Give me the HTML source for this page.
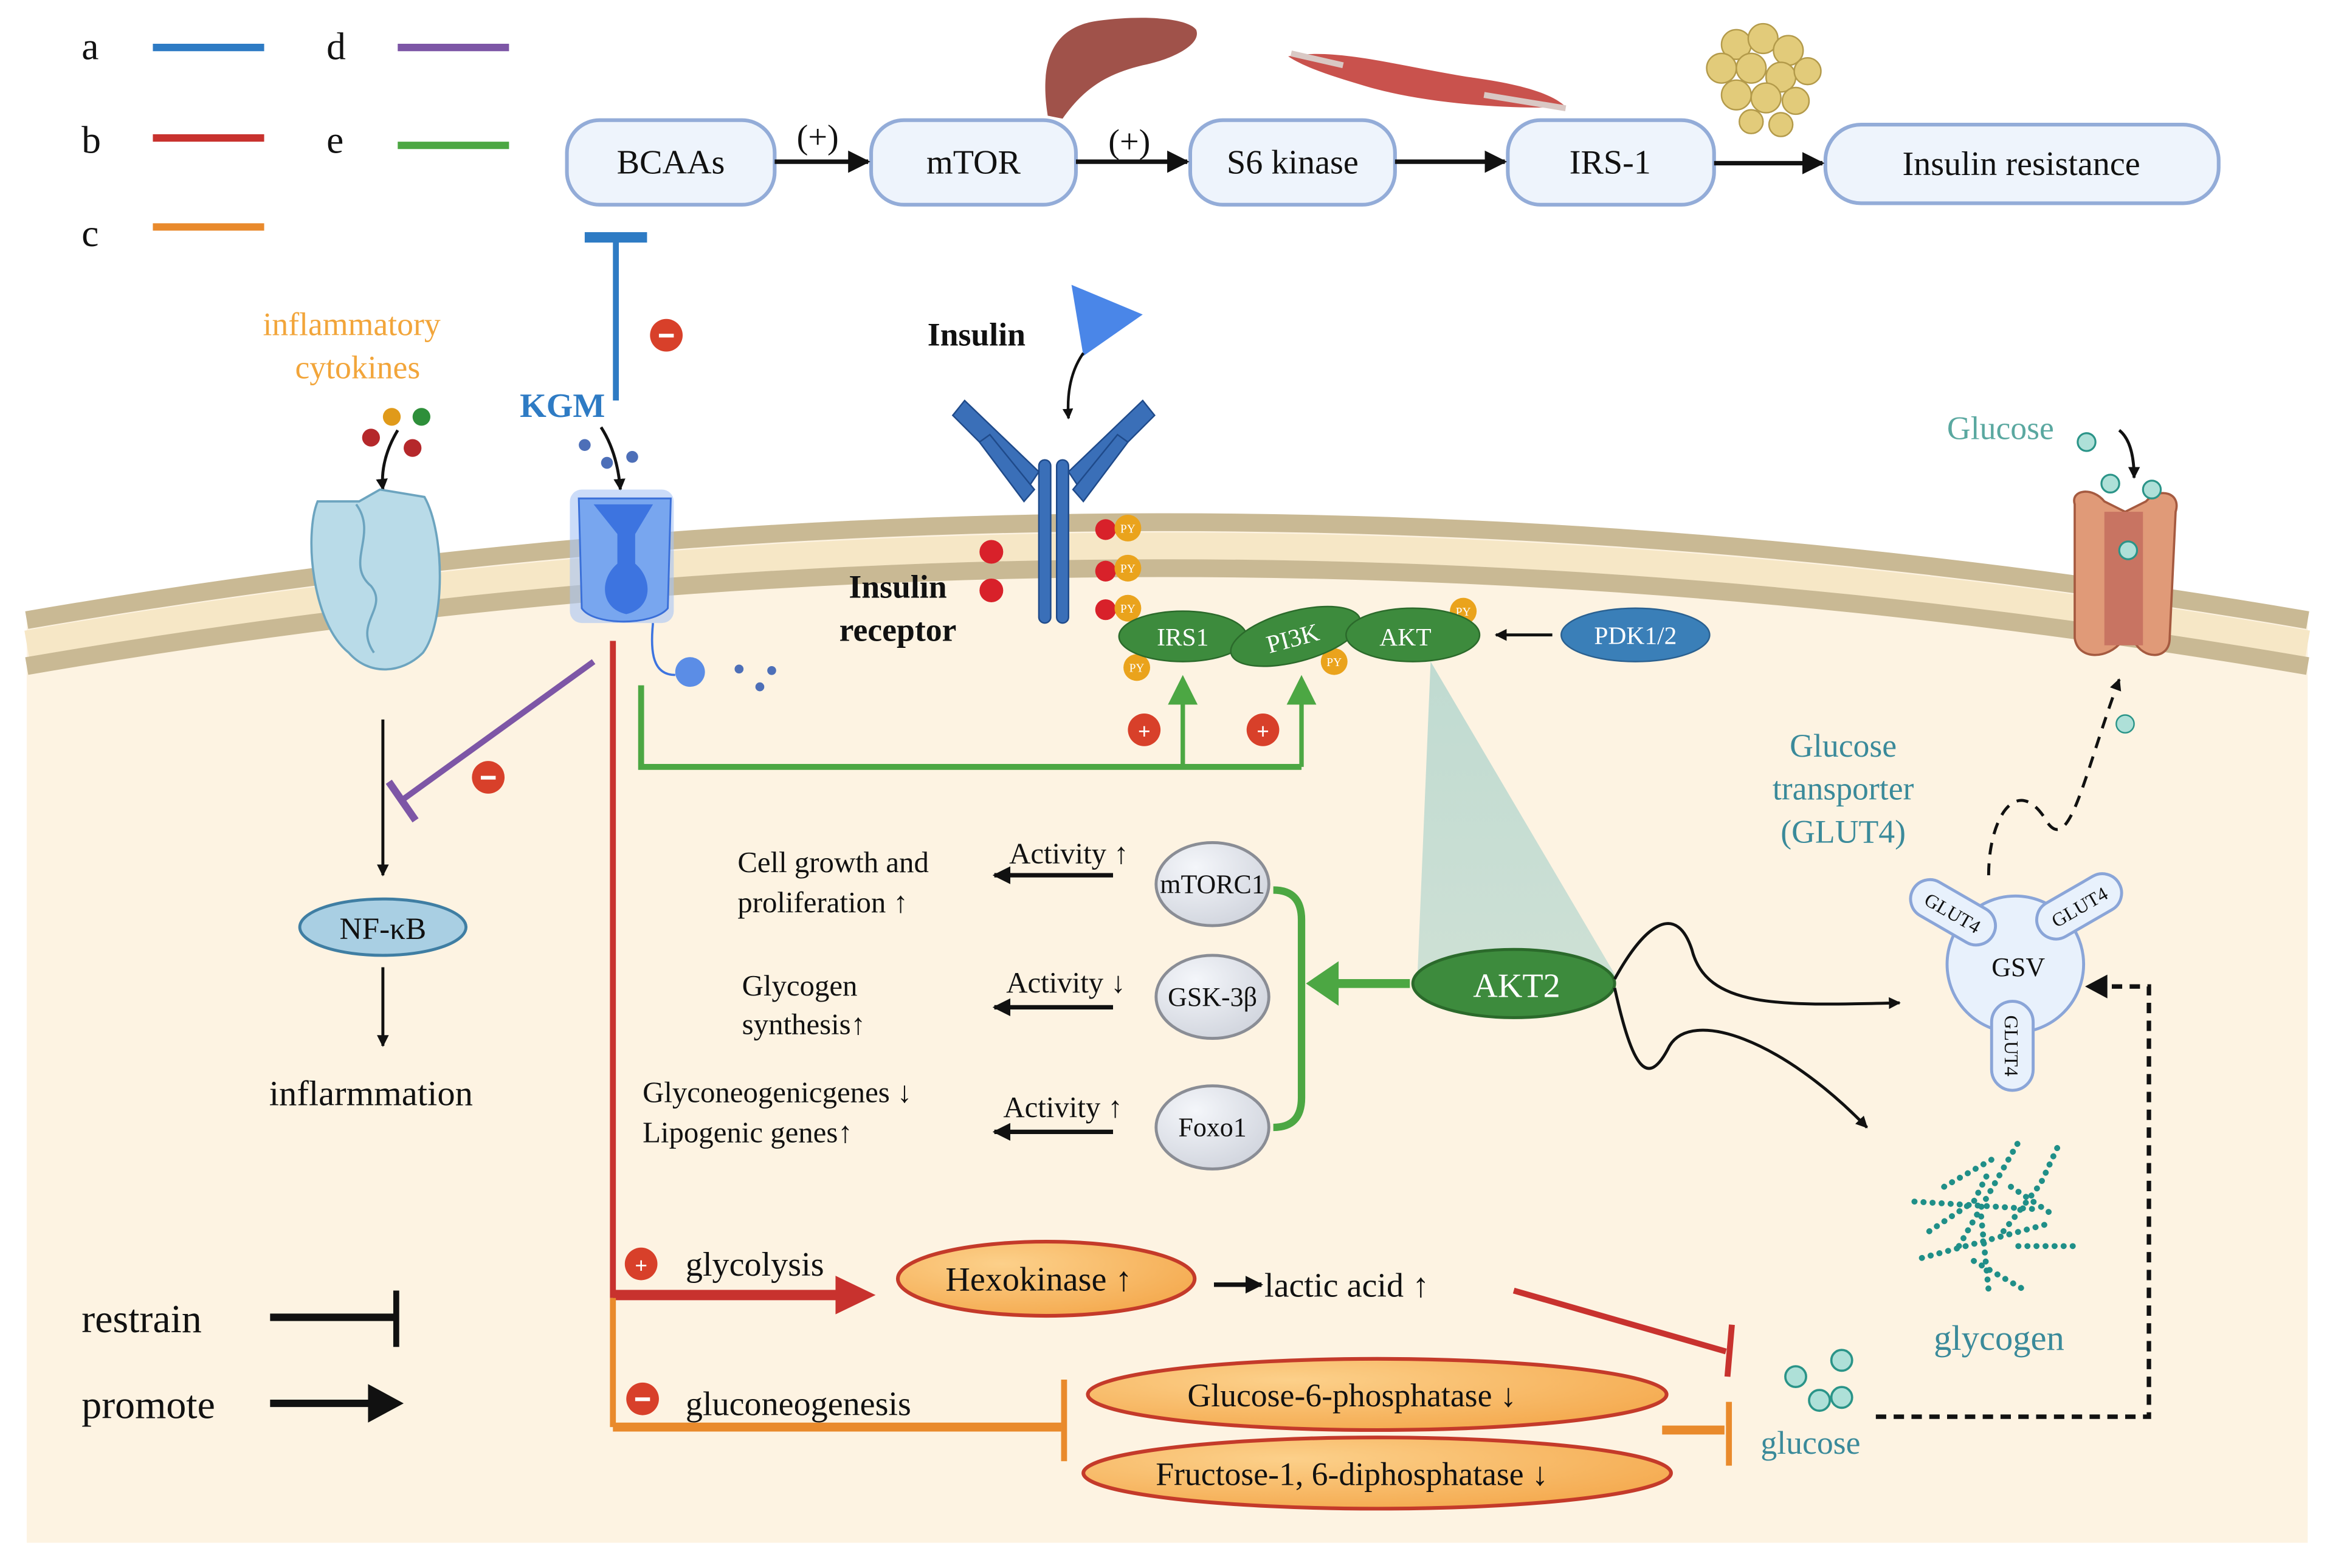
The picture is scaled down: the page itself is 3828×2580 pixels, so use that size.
<!DOCTYPE html>
<html><head><meta charset="utf-8"><style>
html,body{margin:0;padding:0;background:#fff}
svg{display:block}
text{font-family:"Liberation Serif",serif}
</style></head><body>
<svg width="3828" height="2580" viewBox="0 0 1568 1057" preserveAspectRatio="none" xmlns="http://www.w3.org/2000/svg">
<defs>
<marker id="ah" viewBox="0 0 10 10" refX="9" refY="5" markerWidth="5" markerHeight="5" orient="auto"><path d="M0,0L10,5L0,10z" fill="#111"/></marker>
<marker id="ahs" viewBox="0 0 10 10" refX="9" refY="5" markerWidth="4" markerHeight="4" orient="auto"><path d="M0,0L10,5L0,10z" fill="#111"/></marker>
<radialGradient id="og" cx="0.35" cy="0.3" r="0.8"><stop offset="0" stop-color="#fcd08a"/><stop offset="1" stop-color="#f4a84c"/></radialGradient>
<radialGradient id="gg" cx="0.35" cy="0.3" r="0.8"><stop offset="0" stop-color="#f4f6fa"/><stop offset="1" stop-color="#cfd3dc"/></radialGradient>
<linearGradient id="cone" x1="0" y1="0" x2="0" y2="1"><stop offset="0" stop-color="#b9d8cf" stop-opacity="0.9"/><stop offset="1" stop-color="#b9d8cf" stop-opacity="0.7"/></linearGradient>
</defs>
<rect width="1568" height="1057" fill="#fff"/>
<!-- cell -->
<path d="M18,412 Q784,280 1555,412 L1555,1040 L18,1040 Z" fill="#fdf3e2"/>
<path d="M18,418 Q784,286 1555,418" fill="none" stroke="#c9b994" stroke-width="12"/>
<path d="M18,434 Q784,302 1555,434" fill="none" stroke="#f6e7c6" stroke-width="18"/>
<path d="M18,449 Q784,317 1555,449" fill="none" stroke="#c9b994" stroke-width="12"/>

<!-- legend -->
<g font-size="26" fill="#111">
<text x="55" y="40">a</text><text x="55" y="103">b</text><text x="55" y="166">c</text>
<text x="220" y="40">d</text><text x="220" y="103">e</text>
</g>
<line x1="103" y1="32" x2="178" y2="32" stroke="#2e7bc4" stroke-width="5"/>
<line x1="103" y1="93" x2="178" y2="93" stroke="#c8322e" stroke-width="5"/>
<line x1="103" y1="153" x2="178" y2="153" stroke="#e98a2c" stroke-width="5"/>
<line x1="268" y1="32" x2="343" y2="32" stroke="#7d56a6" stroke-width="5"/>
<line x1="268" y1="98" x2="343" y2="98" stroke="#4ca743" stroke-width="5"/>

<!-- top flow -->
<g fill="#eef4fc" stroke="#93acd8" stroke-width="2.5">
<rect x="382" y="81" width="140" height="57" rx="22"/>
<rect x="587" y="81" width="138" height="57" rx="22"/>
<rect x="802" y="81" width="138" height="57" rx="22"/>
<rect x="1016" y="81" width="139" height="57" rx="22"/>
<rect x="1230" y="84" width="265" height="53" rx="24"/>
</g>
<g font-size="23" fill="#111" text-anchor="middle">
<text x="452" y="117">BCAAs</text><text x="656" y="117">mTOR</text><text x="871" y="117">S6 kinase</text>
<text x="1085" y="117">IRS-1</text><text x="1362" y="118">Insulin resistance</text>
<text x="551" y="100">(+)</text><text x="761" y="103">(+)</text>
</g>
<g stroke="#111" stroke-width="3" marker-end="url(#ah)">
<line x1="522" y1="109" x2="585" y2="109"/><line x1="725" y1="109" x2="800" y2="109"/>
<line x1="940" y1="109" x2="1014" y2="109"/><line x1="1155" y1="110" x2="1228" y2="110"/>
</g>
<!-- liver, muscle, fat -->
<path d="M706,78 C700,40 710,18 740,14 C770,10 800,12 806,20 C810,30 790,40 770,44 C745,50 730,60 716,80 Z" fill="#a0524a"/>
<path d="M868,38 C900,32 940,44 990,52 C1020,56 1045,62 1055,72 C1020,74 960,70 920,58 C900,52 880,46 868,38 Z" fill="#c9524d"/>
<path d="M870,36 L905,44 M1000,64 L1055,73" stroke="#d9c8c4" stroke-width="4"/>
<g fill="#e2cb7a" stroke="#b39a4a" stroke-width="1">
<circle cx="1170" cy="30" r="10"/><circle cx="1188" cy="26" r="10"/><circle cx="1205" cy="34" r="10"/><circle cx="1160" cy="46" r="10"/><circle cx="1180" cy="46" r="10"/><circle cx="1200" cy="52" r="10"/><circle cx="1218" cy="48" r="9"/><circle cx="1170" cy="64" r="10"/><circle cx="1190" cy="66" r="10"/><circle cx="1210" cy="68" r="9"/><circle cx="1180" cy="82" r="8"/><circle cx="1200" cy="84" r="8"/>
</g>

<!-- KGM inhibit BCAAs -->
<line x1="415" y1="160" x2="415" y2="270" stroke="#2e7bc4" stroke-width="4"/>
<line x1="394" y1="160" x2="436" y2="160" stroke="#2e7bc4" stroke-width="7"/>
<circle cx="449" cy="226" r="11" fill="#d8402a"/><rect x="444" y="225" width="10" height="2.5" fill="#fff"/>
<text x="379" y="281" font-size="23" fill="#2e7bc4" font-weight="bold" text-anchor="middle">KGM</text>
<text x="237" y="226" font-size="22" fill="#f2a53a" text-anchor="middle">inflammatory</text>
<text x="241" y="255" font-size="22" fill="#f2a53a" text-anchor="middle">cytokines</text>
<circle cx="264" cy="281" r="6" fill="#e09a1a"/><circle cx="284" cy="281" r="6" fill="#2e8f3a"/><circle cx="250" cy="295" r="6" fill="#b5282b"/><circle cx="278" cy="302" r="6" fill="#b5282b"/>
<path d="M268,290 Q256,310 258,330" fill="none" stroke="#111" stroke-width="2" marker-end="url(#ahs)"/>
<circle cx="394" cy="300" r="4" fill="#4d6fb8"/><circle cx="409" cy="312" r="4" fill="#4d6fb8"/><circle cx="426" cy="308" r="4" fill="#4d6fb8"/>
<path d="M405,288 Q416,305 418,330" fill="none" stroke="#111" stroke-width="2" marker-end="url(#ahs)"/>
<!-- cytokine receptor -->
<path d="M214,338 L242,338 L256,330 L286,335 C300,360 300,420 285,440 C270,455 248,455 235,440 C210,420 205,360 214,338 Z" fill="#b9dbe8" stroke="#6ca4bf" stroke-width="1.5"/>
<path d="M240,340 C255,360 232,380 250,395 C262,410 238,420 252,440" fill="none" stroke="#6ca4bf" stroke-width="1.5"/>
<!-- KGM channel -->
<rect x="384" y="330" width="70" height="90" rx="8" fill="#a8c4f5" opacity="0.6"/>
<path d="M390,336 L452,336 L450,410 C440,422 400,422 392,410 Z" fill="#78a6ef" stroke="#3a6fd8" stroke-width="1.2"/>
<path d="M400,340 L440,340 L428,360 L428,380 C440,390 440,410 422,414 C404,410 404,390 416,380 L416,360 Z" fill="#3d74e0"/>
<path d="M440,420 C438,440 440,455 455,455" fill="none" stroke="#3d74e0" stroke-width="1.5"/>
<ellipse cx="465" cy="453" rx="10" ry="10" fill="#5b8de6"/>
<circle cx="498" cy="451" r="3" fill="#4d6fb8"/><circle cx="512" cy="463" r="3" fill="#4d6fb8"/><circle cx="520" cy="452" r="3" fill="#4d6fb8"/>

<!-- left pathway -->
<line x1="258" y1="485" x2="258" y2="590" stroke="#111" stroke-width="2" marker-end="url(#ahs)"/>
<line x1="400" y1="446" x2="270" y2="540" stroke="#7d56a6" stroke-width="4"/>
<line x1="262" y1="527" x2="280" y2="553" stroke="#7d56a6" stroke-width="5"/>
<circle cx="329" cy="524" r="11" fill="#d8402a"/><rect x="324" y="523" width="10" height="2.5" fill="#fff"/>
<ellipse cx="258" cy="625" rx="56" ry="19" fill="#a9cfe3" stroke="#3f7ea3" stroke-width="2"/>
<text x="258" y="633" font-size="21" text-anchor="middle" fill="#111">NF-κB</text>
<line x1="258" y1="652" x2="258" y2="705" stroke="#111" stroke-width="2" marker-end="url(#ahs)"/>
<text x="250" y="745" font-size="24" text-anchor="middle" fill="#111">inflarmmation</text>

<!-- legend bottom -->
<text x="55" y="898" font-size="27" fill="#111">restrain</text>
<text x="55" y="956" font-size="27" fill="#111">promote</text>
<line x1="182" y1="888" x2="266" y2="888" stroke="#111" stroke-width="5"/>
<line x1="267" y1="870" x2="267" y2="908" stroke="#111" stroke-width="4"/>
<line x1="182" y1="946" x2="252" y2="946" stroke="#111" stroke-width="5"/>
<path d="M248,933 L272,946 L248,959 Z" fill="#111"/>

<!-- insulin receptor -->
<text x="658" y="233" font-size="22" font-weight="bold" text-anchor="middle" fill="#111">Insulin</text>
<path d="M722,192 L770,212 L730,240 Z" fill="#4a86e8"/>
<path d="M730,238 Q718,255 720,282" fill="none" stroke="#111" stroke-width="1.8" marker-end="url(#ahs)"/>
<g fill="#3a6fb8" stroke="#1f4a8a" stroke-width="1">
<rect x="700" y="310" width="8" height="110" rx="4"/><rect x="712" y="310" width="8" height="110" rx="4"/>
<path d="M700,318 L650,270 L642,280 L692,330 Z"/><path d="M690,338 L660,298 L667,293 L697,330 Z"/>
<path d="M720,318 L770,270 L778,280 L728,330 Z"/><path d="M730,338 L760,298 L753,293 L723,330 Z"/>
</g>
<text x="605" y="403" font-size="22" font-weight="bold" text-anchor="middle" fill="#111">Insulin</text>
<text x="605" y="432" font-size="22" font-weight="bold" text-anchor="middle" fill="#111">receptor</text>
<g fill="#d8212a"><circle cx="668" cy="372" r="8"/><circle cx="668" cy="398" r="8"/><circle cx="745" cy="357" r="7"/><circle cx="745" cy="385" r="7"/><circle cx="745" cy="411" r="7"/></g>
<g fill="#eaa31c"><circle cx="760" cy="356" r="9"/><circle cx="760" cy="383" r="9"/><circle cx="760" cy="410" r="9"/><circle cx="766" cy="450" r="9"/><circle cx="899" cy="446" r="9"/><circle cx="986" cy="412" r="9"/></g>
<g font-size="8" fill="#fff" text-anchor="middle"><text x="760" y="359">PY</text><text x="760" y="386">PY</text><text x="760" y="413">PY</text><text x="766" y="453">PY</text><text x="899" y="449">PY</text><text x="986" y="415">PY</text></g>
<ellipse cx="797" cy="429" rx="43" ry="17" fill="#3d8b3d" stroke="#2b6a2b"/>
<ellipse cx="873" cy="429" rx="45" ry="17" fill="#3d8b3d" stroke="#2b6a2b" transform="rotate(-15 873 429)"/>
<ellipse cx="952" cy="428" rx="45" ry="18" fill="#3d8b3d" stroke="#2b6a2b"/>
<g font-size="17" fill="#fff" text-anchor="middle"><text x="797" y="435">IRS1</text><text x="871" y="436" transform="rotate(-15 871 430)">PI3K</text><text x="947" y="435">AKT</text></g>
<ellipse cx="1102" cy="428" rx="50" ry="18" fill="#3a7fb8" stroke="#2a6090"/>
<text x="1102" y="434" font-size="17" fill="#fff" text-anchor="middle">PDK1/2</text>
<line x1="1046" y1="428" x2="1008" y2="428" stroke="#111" stroke-width="2" marker-end="url(#ahs)"/>

<!-- green pathway -->
<path d="M432,462 L432,517 L877,517" fill="none" stroke="#4ca743" stroke-width="4"/>
<line x1="797" y1="517" x2="797" y2="470" stroke="#4ca743" stroke-width="3"/>
<line x1="877" y1="517" x2="877" y2="470" stroke="#4ca743" stroke-width="3"/>
<path d="M787,475 L797,455 L807,475 Z" fill="#4ca743"/><path d="M867,475 L877,455 L887,475 Z" fill="#4ca743"/>
<circle cx="771" cy="492" r="11" fill="#d8402a"/><text x="771" y="498" font-size="15" fill="#fff" text-anchor="middle" font-weight="bold">+</text>
<circle cx="851" cy="492" r="11" fill="#d8402a"/><text x="851" y="498" font-size="15" fill="#fff" text-anchor="middle" font-weight="bold">+</text>

<!-- cone -->
<path d="M964,446 L955,660 L1090,660 Z" fill="url(#cone)"/>
<ellipse cx="1020" cy="663" rx="68" ry="23" fill="#3d8b3d" stroke="#2b6a2b" stroke-width="2"/>
<text x="1022" y="672" font-size="23" fill="#fff" text-anchor="middle">AKT2</text>
<line x1="950" y1="663" x2="895" y2="663" stroke="#4ca743" stroke-width="6"/>
<path d="M902,648 L880,663 L902,678 Z" fill="#4ca743"/>
<path d="M858,600 Q877,600 877,620 L877,740 Q877,760 858,760" fill="none" stroke="#4ca743" stroke-width="5"/>
<g fill="url(#gg)" stroke="#8a8d95" stroke-width="2">
<ellipse cx="817" cy="596" rx="38" ry="28"/><ellipse cx="817" cy="672" rx="38" ry="28"/><ellipse cx="817" cy="760" rx="38" ry="28"/>
</g>
<g font-size="18" fill="#111" text-anchor="middle"><text x="817" y="602">mTORC1</text><text x="817" y="678">GSK-3β</text><text x="817" y="766">Foxo1</text></g>
<g stroke="#111" stroke-width="3" marker-end="url(#ahs)">
<line x1="750" y1="590" x2="670" y2="590"/><line x1="750" y1="679" x2="670" y2="679"/><line x1="750" y1="763" x2="670" y2="763"/>
</g>
<g font-size="20" fill="#111">
<text x="680" y="582">Activity ↑</text><text x="678" y="669">Activity ↓</text><text x="676" y="753">Activity ↑</text>
<text x="497" y="588">Cell growth and</text><text x="497" y="615">proliferation ↑</text>
<text x="500" y="671">Glycogen</text><text x="500" y="697">synthesis↑</text>
<text x="433" y="743">Glyconeogenicgenes ↓</text><text x="433" y="770">Lipogenic genes↑</text>
</g>
<!-- wavy arrows -->
<path d="M1088,660 C1110,620 1130,610 1140,640 C1150,680 1200,678 1280,676" fill="none" stroke="#111" stroke-width="2" marker-end="url(#ahs)"/>
<path d="M1088,666 C1100,720 1110,735 1125,705 C1140,680 1200,700 1258,760" fill="none" stroke="#111" stroke-width="2" marker-end="url(#ahs)"/>

<!-- red/orange pathway -->
<line x1="413" y1="432" x2="413" y2="875" stroke="#c8322e" stroke-width="4"/>
<line x1="413" y1="873" x2="565" y2="873" stroke="#c8322e" stroke-width="7"/>
<path d="M563,860 L590,873 L563,886 Z" fill="#c8322e"/>
<line x1="413" y1="875" x2="413" y2="962" stroke="#e98a2c" stroke-width="4"/>
<line x1="413" y1="962" x2="715" y2="962" stroke="#e98a2c" stroke-width="6"/>
<line x1="717" y1="930" x2="717" y2="985" stroke="#e98a2c" stroke-width="4"/>
<circle cx="432" cy="852" r="11" fill="#d8402a"/><text x="432" y="858" font-size="15" fill="#fff" text-anchor="middle" font-weight="bold">+</text>
<circle cx="433" cy="943" r="11" fill="#d8402a"/><rect x="428" y="942" width="10" height="2.5" fill="#fff"/>
<text x="462" y="860" font-size="23" fill="#111">glycolysis</text>
<text x="462" y="954" font-size="23" fill="#111">gluconeogenesis</text>
<ellipse cx="705" cy="862" rx="100" ry="25" fill="url(#og)" stroke="#c43a2a" stroke-width="2.5"/>
<text x="700" y="870" font-size="23" fill="#111" text-anchor="middle">Hexokinase ↑</text>
<line x1="818" y1="866" x2="850" y2="866" stroke="#111" stroke-width="3" marker-end="url(#ahs)"/>
<text x="852" y="874" font-size="23" fill="#111">lactic acid ↑</text>
<line x1="1020" y1="870" x2="1163" y2="911" stroke="#c8322e" stroke-width="4"/>
<line x1="1167" y1="893" x2="1164" y2="928" stroke="#c8322e" stroke-width="4"/>
<ellipse cx="928" cy="940" rx="195" ry="24" fill="url(#og)" stroke="#c43a2a" stroke-width="2.5"/>
<ellipse cx="928" cy="993" rx="198" ry="24" fill="url(#og)" stroke="#c43a2a" stroke-width="2.5"/>
<text x="911" y="948" font-size="22" fill="#111" text-anchor="middle">Glucose-6-phosphatase ↓</text>
<text x="911" y="1001" font-size="22" fill="#111" text-anchor="middle">Fructose-1, 6-diphosphatase ↓</text>
<line x1="1120" y1="964" x2="1162" y2="964" stroke="#e98a2c" stroke-width="6"/>
<line x1="1165" y1="945" x2="1165" y2="988" stroke="#e98a2c" stroke-width="4"/>
<g fill="#aee0d8" stroke="#2a9488" stroke-width="1.5"><circle cx="1210" cy="928" r="7"/><circle cx="1241" cy="917" r="7"/><circle cx="1226" cy="944" r="7"/><circle cx="1241" cy="942" r="7"/></g>
<text x="1220" y="980" font-size="22" fill="#3a8a9a" text-anchor="middle">glucose</text>
<path d="M1264,955 L1448,955 L1448,665 L1408,665" fill="none" stroke="#111" stroke-width="3" stroke-dasharray="7,5"/>
<path d="M1420,657 L1405,665 L1420,673 Z" fill="#111"/>

<!-- glycogen -->
<g stroke="#1f8f88" stroke-width="4" stroke-dasharray="0.1,6" stroke-linecap="round" fill="none">
<path d="M1290,810 L1370,815 M1300,830 L1330,810 L1340,790 M1295,848 L1380,825 M1330,850 L1365,870 M1350,830 L1375,798 L1388,770 M1355,800 L1385,820 M1360,840 L1400,840 M1335,820 L1340,870 M1320,840 L1360,770 M1310,800 L1345,780"/>
</g>
<text x="1347" y="910" font-size="24" fill="#3a8a9a" text-anchor="middle">glycogen</text>

<!-- GSV -->
<circle cx="1358" cy="650" r="46" fill="#e8f1fc" stroke="#8aa5d8" stroke-width="2"/>
<rect x="1285" y="602" width="62" height="26" rx="13" fill="#e8f1fc" stroke="#8aa5d8" stroke-width="2" transform="rotate(30 1316 615)"/>
<rect x="1370" y="598" width="62" height="26" rx="13" fill="#e8f1fc" stroke="#8aa5d8" stroke-width="2" transform="rotate(-30 1401 611)"/>
<rect x="1342" y="675" width="28" height="60" rx="14" fill="#e8f1fc" stroke="#8aa5d8" stroke-width="2"/>
<g font-size="13" fill="#111" text-anchor="middle">
<text x="1316" y="620" transform="rotate(30 1316 615)">GLUT4</text>
<text x="1401" y="616" transform="rotate(-30 1401 611)">GLUT4</text>
<text x="1356" y="710" transform="rotate(90 1356 705)">GLUT4</text>
</g>
<text x="1360" y="658" font-size="18" fill="#111" text-anchor="middle">GSV</text>
<g font-size="22" fill="#3a8a9a" text-anchor="middle"><text x="1242" y="510">Glucose</text><text x="1242" y="539">transporter</text><text x="1242" y="568">(GLUT4)</text></g>
<path d="M1340,590 C1340,550 1360,520 1380,555 C1395,575 1405,520 1428,458" fill="none" stroke="#111" stroke-width="2" stroke-dasharray="8,6" marker-end="url(#ahs)"/>
<circle cx="1432" cy="488" r="6" fill="#aee0d8" stroke="#2a9488"/>

<!-- GLUT transporter top right -->
<text x="1348" y="296" font-size="22" fill="#5aa8a0" text-anchor="middle">Glucose</text>
<path d="M1398,340 C1395,330 1410,328 1418,338 L1432,345 L1446,338 C1455,328 1470,332 1466,345 L1462,430 C1462,445 1444,445 1438,432 L1430,432 C1420,445 1400,445 1398,430 Z" fill="#e09a78" stroke="#a55a40" stroke-width="1.5"/>
<rect x="1418" y="345" width="26" height="90" fill="#c87462"/>
<g fill="#aee0d8" stroke="#2a9488" stroke-width="1.3"><circle cx="1406" cy="298" r="6"/><circle cx="1422" cy="326" r="6"/><circle cx="1450" cy="330" r="6"/><circle cx="1434" cy="371" r="6"/></g>
<path d="M1428,290 Q1438,298 1438,322" fill="none" stroke="#111" stroke-width="2" marker-end="url(#ahs)"/>
</svg>
</body></html>
